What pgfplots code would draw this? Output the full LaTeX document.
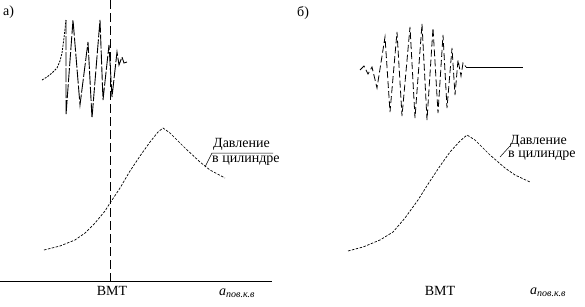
\documentclass[border=0pt]{standalone}
\usepackage{pgfplots}
\pgfplotsset{compat=1.18}
\usepackage{fontspec}
\setmainfont{Liberation Serif}
\tikzset{lbl/.style={font=\fontsize{14}{15}\selectfont, inner sep=0pt}}
\begin{document}
\begin{tikzpicture}
\begin{axis}[
  at={(0,0)}, anchor=south west,
  width=585pt, height=306pt, scale only axis,
  xmin=0, xmax=585, ymin=0, ymax=306, y dir=reverse,
  hide axis, clip=false,
]
% --- panel a ---
\addplot[black, line width=0.8pt] coordinates {(0,281) (272,281)};
\addplot[black, line width=0.8pt, dash pattern=on 9pt off 4pt] coordinates {(110,0) (110,281)};
% vibration signal a
\addplot[black, line width=0.8pt, dash pattern=on 2pt off 1.2pt] coordinates {
 (42,80) (47,77) (52,73) (57,68) (60,61) (62,53) (64,38) (66,20)};
\addplot[black, line width=0.9pt, dash pattern=on 14pt off 2pt] coordinates {
 (66,20) (66,115) (73,20) (80,105) (88,42) (92,118) (100,20) (103,100) (109,45) (112,97)
 (117,52) (119,65) (122,57) (124,63) (127,62)};
% pressure a
\addplot[black, line width=0.7pt, dash pattern=on 2.5pt off 1.5pt] coordinates {
 (44,250) (60,246) (75,240) (85,233) (95,223) (105,211) (110,203) (120,188) (130,171)
 (140,156) (150,142) (158,132) (163,128) (170,133) (185,148) (200,162) (210,170) (225,178)};
\addplot[black, line width=0.5pt] coordinates {(205,167) (212,153) (273,153)};
\node[lbl, anchor=west] at (axis cs:213,144) {Давление};
\node[lbl, anchor=west] at (axis cs:212,161) {в цилиндре};
\node[lbl, anchor=base] at (axis cs:112,295) {ВМТ};
\node[lbl, anchor=base west] at (axis cs:219,295) {\textit{a}\raisebox{-2pt}{\fontsize{10}{11}\selectfont\textit{пов.к.в}}};
\node[lbl, anchor=west] at (axis cs:3,12) {а)};
% --- panel b ---
\addplot[black, line width=0.8pt, dash pattern=on 7pt off 3pt] coordinates {
 (360,70) (364,66) (368,74) (372,67) (377,88) (385,37) (390,112) (397,32) (402,116)
 (410,27) (415,118) (422,24) (427,120) (433,28) (438,113) (443,35) (447,108) (452,48)
 (455,95) (458,60) (461,76) (463,63) (466,67)};
\addplot[black, line width=0.8pt] coordinates {(466,67) (523,67)};
% pressure b
\addplot[black, line width=0.7pt, dash pattern=on 2.5pt off 1.5pt] coordinates {
 (348,251) (363,247) (380,240) (393,232) (405,218) (418,200) (430,181) (440,166)
 (450,152) (460,141) (467,135) (475,140) (490,155) (505,168) (515,175) (530,182)};
\addplot[black, line width=0.5pt] coordinates {(500,157) (510,146)};
\node[lbl, anchor=west] at (axis cs:510,141) {Давление};
\node[lbl, anchor=west] at (axis cs:508,156) {в цилиндре};
\node[lbl, anchor=base] at (axis cs:440,295) {ВМТ};
\node[lbl, anchor=base west] at (axis cs:530,294) {\textit{a}\raisebox{-2pt}{\fontsize{10}{11}\selectfont\textit{пов.к.в}}};
\node[lbl, anchor=west] at (axis cs:297,13) {б)};
\end{axis}
\pgfresetboundingbox
\path[use as bounding box] (0,0) rectangle (585pt,306pt);
\end{tikzpicture}
\end{document}
